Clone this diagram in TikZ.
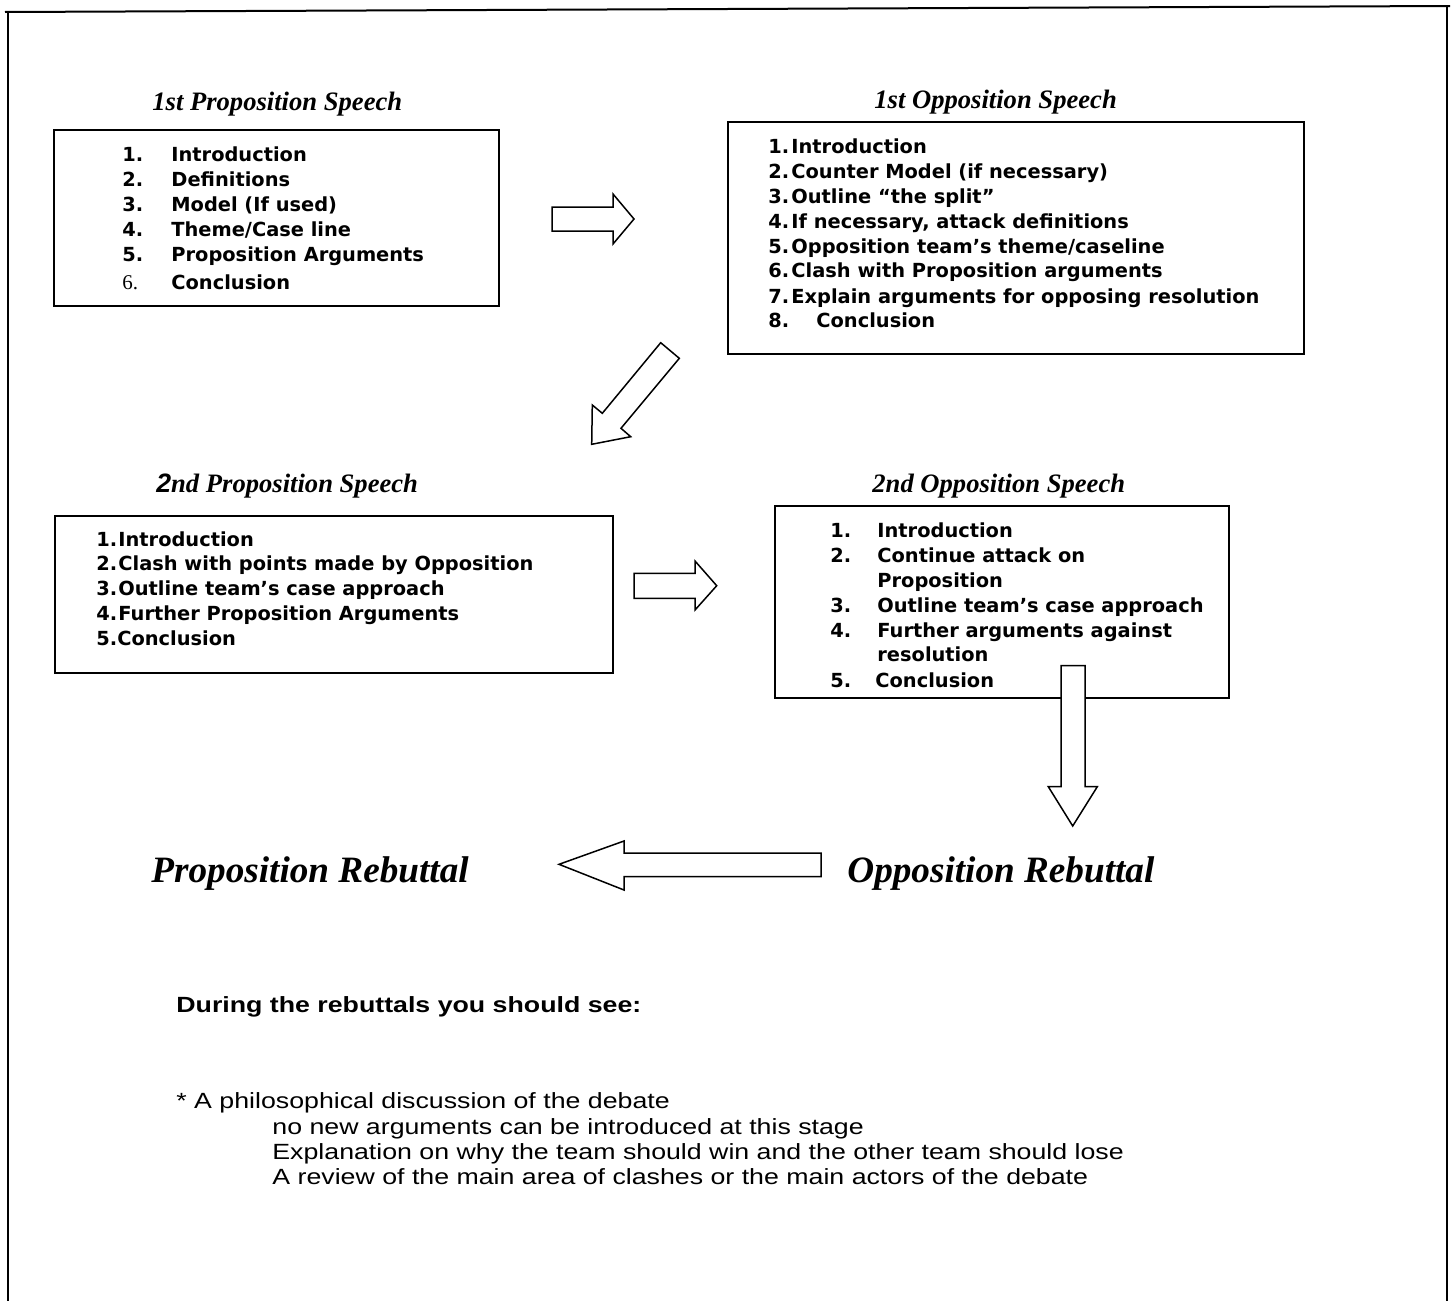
\documentclass[tikz,border=0pt]{standalone}
\usepackage{fontspec}
\setmainfont{Liberation Serif}
\newfontfamily\titlefont{Liberation Serif}
\newfontfamily\twofont{Liberation Sans}
\newfontfamily\boxfont{DejaVu Sans}
\newfontfamily\bodyfont{Liberation Sans}[FakeStretch=1.215]
\tikzset{
  frame/.style={line width=1pt},
  box/.style={draw, line width=0.75pt, anchor=north west, inner sep=0pt},
  title/.style={anchor=base west, inner sep=0pt, font={\titlefont\bfseries\itshape\fontsize{13.3pt}{16pt}\selectfont}},
  item/.style={anchor=base west, inner sep=0pt, font={\boxfont\bfseries\fontsize{9.7pt}{12pt}\selectfont}},
  serifnum/.style={anchor=base west, inner sep=0pt, font={\titlefont\fontsize{10.5pt}{12pt}\selectfont}},
  rebut/.style={anchor=base west, inner sep=0pt, font={\titlefont\bfseries\itshape\fontsize{18.6pt}{22pt}\selectfont}},
  bodyb/.style={anchor=base west, inner sep=0pt, font={\bodyfont\bfseries\fontsize{11pt}{13pt}\selectfont}},
  body/.style={anchor=base west, inner sep=0pt, font={\bodyfont\fontsize{11pt}{13pt}\selectfont}},
  blockarrow/.style={draw, fill=white, line width=0.75pt, line join=miter}
}
\begin{document}
\begin{tikzpicture}[x=0.5pt,y=-0.5pt]
\useasboundingbox (0,0) rectangle (1454,1301);
% outer frame
\draw[frame] (5,12) -- (1450,6);
\draw[frame] (8,11) -- (8,1301);
\draw[frame] (1447,6) -- (1447,1301);

% ---------- 1st Proposition ----------
\node[title] (t1) at (152,110) {1st Proposition Speech};
\node[box, minimum width=222.5pt, minimum height=88pt] (b1) at (53,129) {};
\node[item] (b1n1) at (122,161) {1.};
\node[item] (b1i1) at (171,161) {Introduction};
\node[item] (b1n2) at (122,186) {2.};
\node[item] (b1i2) at (171,186) {Definitions};
\node[item] (b1n3) at (122,211) {3.};
\node[item] (b1i3) at (171,211) {Model (If used)};
\node[item] (b1n4) at (122,236) {4.};
\node[item] (b1i4) at (171,236) {Theme/Case line};
\node[item] (b1n5) at (122,261) {5.};
\node[item] (b1i5) at (171,261) {Proposition Arguments};
\node[serifnum] (b1n6) at (122,289) {6.};
\node[item] (b1i6) at (171,289) {Conclusion};

% ---------- 1st Opposition ----------
\node[title] (t2) at (874,108) {1st Opposition Speech};
\node[box, minimum width=288pt, minimum height=116pt] (b2) at (727,121) {};
\node[item] (b2n1) at (768,153) {1.};
\node[item] (b2i1) at (791,153) {Introduction};
\node[item] (b2n2) at (768,178) {2.};
\node[item] (b2i2) at (791,178) {Counter Model (if necessary)};
\node[item] (b2n3) at (768,203) {3.};
\node[item] (b2i3) at (791,203) {Outline “the split”};
\node[item] (b2n4) at (768,228) {4.};
\node[item] (b2i4) at (791,228) {If necessary, attack definitions};
\node[item] (b2n5) at (768,253) {5.};
\node[item] (b2i5) at (791,253) {Opposition team’s theme/caseline};
\node[item] (b2n6) at (768,277) {6.};
\node[item] (b2i6) at (791,277) {Clash with Proposition arguments};
\node[item] (b2n7) at (768,303) {7.};
\node[item] (b2i7) at (791,303) {Explain arguments for opposing resolution};
\node[item] (b2n8) at (768,327) {8.};
\node[item] (b2i8) at (816,327) {Conclusion};

% ---------- 2nd Proposition ----------
\node[title] (t3) at (156,492) {{\twofont\bfseries\itshape 2}nd Proposition Speech};
\node[box, minimum width=279pt, minimum height=78.5pt] (b3) at (54,515) {};
\node[item] (b3n1) at (96,546) {1.};
\node[item] (b3i1) at (118,546) {Introduction};
\node[item] (b3n2) at (96,570) {2.};
\node[item] (b3i2) at (118,570) {Clash with points made by Opposition};
\node[item] (b3n3) at (96,595) {3.};
\node[item] (b3i3) at (118,595) {Outline team’s case approach};
\node[item] (b3n4) at (96,620) {4.};
\node[item] (b3i4) at (118,620) {Further Proposition Arguments};
\node[item] (b3i5) at (96,645) {5.Conclusion};

% ---------- 2nd Opposition ----------
\node[title] (t4) at (872,492) {2nd Opposition Speech};
\node[box, minimum width=227pt, minimum height=96pt] (b4) at (774,505) {};
\node[item] (b4n1) at (830,537) {1.};
\node[item] (b4i1) at (877,537) {Introduction};
\node[item] (b4n2) at (830,562) {2.};
\node[item] (b4i2) at (877,562) {Continue attack on};
\node[item] (b4i2b) at (877,587) {Proposition};
\node[item] (b4n3) at (830,612) {3.};
\node[item] (b4i3) at (877,612) {Outline team’s case approach};
\node[item] (b4n4) at (830,637) {4.};
\node[item] (b4i4) at (877,637) {Further arguments against};
\node[item] (b4i4b) at (877,661) {resolution};
\node[item] (b4n5) at (830,687) {5.};
\node[item] (b4i5) at (875,687) {Conclusion};

% ---------- block arrows ----------
% right arrow 1
\draw[blockarrow] (552,207) -- (613,207) -- (613,194) -- (634,219) -- (613,244) -- (613,231) -- (552,231) -- cycle;
% diagonal arrow
\draw[blockarrow] (660.7,342.7) -- (679.3,358.3) -- (621,428.3) -- (630.7,436.7) -- (591.7,444.3) -- (592.3,405) -- (602.3,413.3) -- cycle;
% right arrow 2
\draw[blockarrow] (634,573.3) -- (695,573.3) -- (695,561) -- (716.7,585.7) -- (695,610) -- (695,598.3) -- (634,598.3) -- cycle;
% down arrow
\draw[blockarrow] (1061,665.7) -- (1085,665.7) -- (1085,786.7) -- (1097.3,786.7) -- (1072.7,826) -- (1048.3,786.7) -- (1061,786.7) -- cycle;
% left arrow
\draw[blockarrow] (821,853) -- (624,853) -- (624,841) -- (559,864.3) -- (624,890) -- (624,876.7) -- (821,876.7) -- cycle;

% ---------- rebuttals ----------
\node[rebut] (pr) at (151,882) {Proposition Rebuttal};
\node[rebut] (or) at (847,882) {Opposition Rebuttal};

% ---------- bottom text ----------
\node[bodyb] (d0) at (176,1012) {During the rebuttals you should see:};
\node[body] (d1) at (176,1108) {* A philosophical discussion of the debate};
\node[body] (d2) at (272,1134) {no new arguments can be introduced at this stage};
\node[body] (d3) at (272,1159) {Explanation on why the team should win and the other team should lose};
\node[body] (d4) at (272,1184) {A review of the main area of clashes or the main actors of the debate};
\end{tikzpicture}
\end{document}
